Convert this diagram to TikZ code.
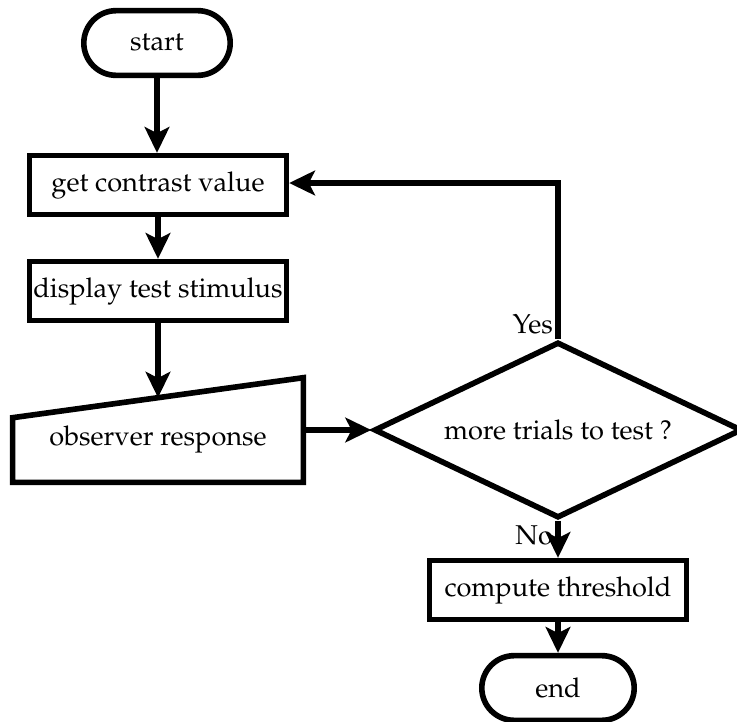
\documentclass[tikz,border=0pt]{standalone}
\usepackage[T1]{fontenc}
\usepackage{mathpazo}
\usetikzlibrary{arrows.meta,shapes.geometric,shapes.misc,calc}

\tikzset{
  term/.style={draw,rounded rectangle,minimum width=24.3mm,minimum height=9.7mm},
  stepbox/.style={draw,rectangle,minimum width=38.5mm,minimum height=8.8mm,inner sep=0pt},
  decide/.style={draw,diamond,aspect=2,minimum width=55.2mm,minimum height=26.4mm,inner sep=0pt},
}

\begin{document}
\begin{tikzpicture}[x=0.15mm,y=-0.15mm,line width=2.4pt,>={Stealth[length=11pt,width=10.5pt,inset=2.6pt]},font=\fontsize{11.6}{14}\selectfont]
\useasboundingbox (0,0) rectangle (737,722);

\node [term] (start) at (157,43) {start};
\node [stepbox] (getc) at (158,185) {get contrast value};
\node [stepbox] (disp) at (158,291) {display test stimulus};
\node [minimum width=42.75mm,minimum height=14.85mm] (obs) at (158,430) {};
\node at ([yshift=-1.4mm]obs.center) {observer response};
\coordinate (obs nw) at ([yshift=-6mm]obs.north west);
\coordinate (obs top) at ($(obs nw)!0.5!(obs.north east)$);
\draw [line join=miter] (obs nw) -- (obs.north east) -- (obs.south east) -- (obs.south west) -- cycle;

\node [decide] (dec) at (558,430) {more trials to test ?};
\node [stepbox] (comp) at (558,590) {compute threshold};
\node [term,minimum width=25.2mm] (end) at (558,688) {end};

\draw [->] (start.south) -- (start.south |- getc.north);
\draw [->] (getc) -- (disp);
\draw [->] (disp.south) -- (obs top);
\draw [->] (obs.east) -- (dec.west);
\draw [->] (dec.north) -- (dec.north |- 0,183) -- (getc.east |- 0,183);
\draw [->] (dec.south) -- (comp.north);
\draw [->] (comp) -- (end);

\node [anchor=south east,inner sep=1pt] at (dec.north) {Yes};
\node [anchor=north east,inner sep=1pt] at (dec.south) {No};

\end{tikzpicture}
\end{document}
